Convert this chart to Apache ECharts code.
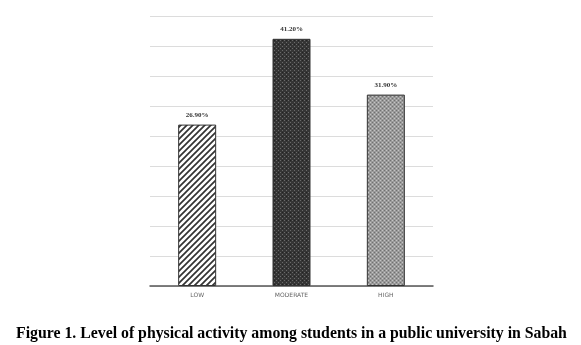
<!DOCTYPE html>
<html>
<head>
<meta charset="utf-8">
<script src="https://cdn.jsdelivr.net/npm/echarts@6/dist/echarts.min.js"></script>
<style>
  html, body { margin: 0; padding: 0; background: #fff; }
  #chart { width: 581px; height: 345px; }
</style>
</head>
<body>
<div id="chart"></div>
<script>
// Physical activity levels (percent of students)
const categories = ['LOW', 'MODERATE', 'HIGH'];
const percentages = [26.90, 41.20, 31.90];
const yMin = 0, yMax = 45, yStep = 5;
const caption = 'Figure 1. Level of physical activity among students in a public university in Sabah';

// Fill patterns drawn on small tiles
function tile(size, draw) {
  const c = document.createElement('canvas');
  c.width = size; c.height = size;
  draw(c.getContext('2d'), size);
  return c;
}
const stripes = tile(6, (g, s) => {
  g.fillStyle = '#fff'; g.fillRect(0, 0, s, s);
  g.strokeStyle = '#333'; g.lineWidth = 1.7;
  g.beginPath();
  g.moveTo(-1, s + 1); g.lineTo(s + 1, -1);
  g.moveTo(-1, 1); g.lineTo(1, -1);
  g.moveTo(s - 1, s + 1); g.lineTo(s + 1, s - 1);
  g.stroke();
});
const darkDots = tile(4, (g, s) => {
  g.fillStyle = '#353535'; g.fillRect(0, 0, s, s);
  g.fillStyle = '#6a6a6a'; g.fillRect(0, 0, 1, 1); g.fillRect(2, 2, 1, 1);
  g.fillStyle = '#222'; g.fillRect(2, 0, 1, 1);
});
const greyDots = tile(4, (g, s) => {
  g.fillStyle = '#9a9a9a'; g.fillRect(0, 0, s, s);
  g.fillStyle = '#c4c4c4'; g.fillRect(0, 0, 1, 1); g.fillRect(2, 2, 1, 1);
  g.fillStyle = '#707070'; g.fillRect(2, 0, 1, 1); g.fillRect(0, 2, 1, 1);
});
const fills = [stripes, darkDots, greyDots];

const chart = echarts.init(document.getElementById('chart'), null, { renderer: 'canvas' });
chart.setOption({
  animation: false,
  backgroundColor: '#fff',
  title: {
    text: caption,
    left: 11,
    top: 321,
    textStyle: { fontFamily: 'Liberation Serif', fontWeight: 'bold', fontSize: 15.8, color: '#000' }
  },
  grid: { left: 150, right: 148, top: 16, bottom: 59 },
  xAxis: {
    type: 'category',
    data: categories,
    axisLine: { lineStyle: { color: '#555', width: 1.5 } },
    axisTick: { show: false },
    axisLabel: { fontSize: 6, color: '#666', margin: 6, fontFamily: 'DejaVu Sans' }
  },
  yAxis: {
    type: 'value',
    min: yMin, max: yMax, interval: yStep,
    axisLabel: { show: false },
    axisLine: { show: false },
    axisTick: { show: false },
    splitLine: { lineStyle: { color: '#dcdcdc', width: 1 } }
  },
  series: [{
    type: 'bar',
    barWidth: 38,
    data: percentages.map((v, i) => ({
      value: v,
      itemStyle: {
        color: { image: fills[i], repeat: 'repeat' },
        borderColor: '#333',
        borderWidth: 1
      }
    })),
    label: {
      show: true,
      position: 'top',
      distance: 6,
      fontSize: 7,
      fontWeight: 'bold',
      fontFamily: 'Liberation Serif',
      color: '#333',
      formatter: p => p.value.toFixed(2) + '%'
    }
  }]
});
</script>
</body>
</html>
